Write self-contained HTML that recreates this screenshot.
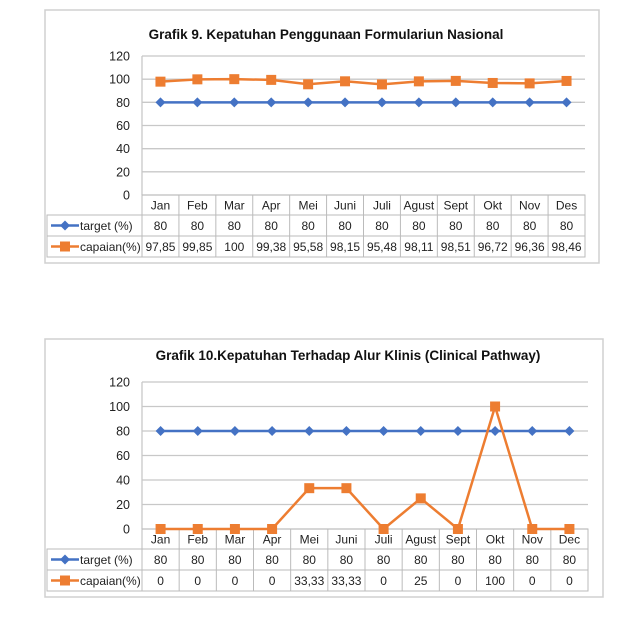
<!DOCTYPE html>
<html><head><meta charset="utf-8"><style>
body{margin:0;background:#fff;width:631px;height:614px;overflow:hidden}
svg{font-family:"Liberation Sans",sans-serif}
</style></head><body>
<svg id="s" width="631" height="614"></svg>
<script>
const months1=["Jan","Feb","Mar","Apr","Mei","Juni","Juli","Agust","Sept","Okt","Nov","Des"];
const target1=[80,80,80,80,80,80,80,80,80,80,80,80];
const capaian1=[97.85,99.85,100,99.38,95.58,98.15,95.48,98.11,98.51,96.72,96.36,98.46];
const months2=["Jan","Feb","Mar","Apr","Mei","Juni","Juli","Agust","Sept","Okt","Nov","Dec"];
const target2=[80,80,80,80,80,80,80,80,80,80,80,80];
const capaian2=[0,0,0,0,33.33,33.33,0,25,0,100,0,0];
const yTicks=[0,20,40,60,80,100,120];
const NS="http://www.w3.org/2000/svg";
const svg=document.getElementById('s');
function mk(tag,attrs,parent,name){const e=document.createElementNS(NS,tag);for(const k in attrs)e.setAttribute(k,attrs[k]);


(parent||svg).appendChild(e);return e;}
function fmt(v){return String(v).replace('.',',');}
function chart(cfg){
 const g=mk('g',{},svg,cfg.name);
 mk('rect',{x:cfg.bx,y:cfg.by,width:cfg.bw,height:cfg.bh,fill:'#fff',stroke:'#d0d0d0','stroke-width':1.5},g,'chart-border');
 const t=mk('text',{x:cfg.tx,y:cfg.ty,'text-anchor':'middle','font-size':13.5,'font-weight':'bold',fill:'#111'},g,'chart-title');t.textContent=cfg.title;
 const L=142,R=cfg.R,T=cfg.T,B=cfg.B,n=cfg.months.length,cw=(R-L)/n;
 const y=v=>B-(v/120)*(B-T), x=i=>L+cw*(i+0.5);
 yTicks.forEach(v=>{
  mk('line',{x1:L,x2:R,y1:y(v),y2:y(v),stroke:'#c8c8c8','stroke-width':1.3},g,'gridline');
  const tt=mk('text',{x:L-12,y:y(v)+4.5,'text-anchor':'end','font-size':12.5,fill:'#222'},g,'y-tick-label');tt.textContent=v;
 });
 mk('line',{x1:L,x2:L,y1:T,y2:B,stroke:'#c8c8c8','stroke-width':1.3},g,'y-axis');
 const r=cfg.rows;
 const tb=mk('g',{},g,'data-table');
 mk('rect',{x:L,y:r[0],width:R-L,height:r[1]-r[0],fill:'none',stroke:'#bbb'},tb,'table-header-row');
 mk('rect',{x:47,y:r[1],width:R-47,height:r[3]-r[1],fill:'none',stroke:'#bbb'},tb,'table-body');
 mk('line',{x1:47,x2:R,y1:r[2],y2:r[2],stroke:'#bbb'},tb,'table-row-divider');
 for(let i=0;i<=n;i++)mk('line',{x1:L+cw*i,x2:L+cw*i,y1:r[0],y2:r[3],stroke:'#bbb'},tb,'table-col-divider');
 const mid=(a,b)=>(a+b)/2+4.5;
 cfg.months.forEach((m,i)=>{const e=mk('text',{x:x(i),y:mid(r[0],r[1]),'text-anchor':'middle','font-size':12,fill:'#222'},tb,'month-label');e.textContent=m;});
 cfg.target.forEach((v,i)=>{const e=mk('text',{x:x(i),y:mid(r[1],r[2]),'text-anchor':'middle','font-size':12,fill:'#222'},tb,'target-value');e.textContent=fmt(v);});
 cfg.cap.forEach((v,i)=>{const e=mk('text',{x:x(i),y:mid(r[2],r[3]),'text-anchor':'middle','font-size':12,fill:'#222'},tb,'capaian-value');e.textContent=fmt(v);});
 const ly1=(r[1]+r[2])/2, ly2=(r[2]+r[3])/2;
 mk('line',{x1:51,x2:79,y1:ly1,y2:ly1,stroke:'#4472C4','stroke-width':2.5},tb,'legend-target-line');
 mk('path',{d:`M65 ${ly1-5}L70 ${ly1}L65 ${ly1+5}L60 ${ly1}Z`,fill:'#4472C4'},tb,'legend-target-marker');
 let e=mk('text',{x:80,y:ly1+4.5,'font-size':12,fill:'#222'},tb,'legend-target-label');e.textContent='target (%)';
 mk('line',{x1:51,x2:79,y1:ly2,y2:ly2,stroke:'#ED7D31','stroke-width':2.5},tb,'legend-capaian-line');
 mk('rect',{x:60,y:ly2-5,width:10,height:10,fill:'#ED7D31'},tb,'legend-capaian-marker');
 e=mk('text',{x:80,y:ly2+4.5,'font-size':12,fill:'#222'},tb,'legend-capaian-label');e.textContent='capaian(%)';
 const sg=mk('g',{},g,'series-target');
 mk('polyline',{points:cfg.target.map((v,i)=>x(i)+','+y(v)).join(' '),fill:'none',stroke:'#4472C4','stroke-width':2.5},sg,'target-line');
 cfg.target.forEach((v,i)=>mk('path',{d:`M${x(i)} ${y(v)-5}L${x(i)+5} ${y(v)}L${x(i)} ${y(v)+5}L${x(i)-5} ${y(v)}Z`,fill:'#4472C4'},sg,'target-point'));
 const cg=mk('g',{},g,'series-capaian');
 mk('polyline',{points:cfg.cap.map((v,i)=>x(i)+','+y(v)).join(' '),fill:'none',stroke:'#ED7D31','stroke-width':2.5},cg,'capaian-line');
 cfg.cap.forEach((v,i)=>mk('rect',{x:x(i)-5,y:y(v)-5,width:10,height:10,fill:'#ED7D31'},cg,'capaian-point'));
}
chart({name:'chart-formularium',bx:45,by:10,bw:554,bh:253,tx:326,ty:39,title:'Grafik 9. Kepatuhan Penggunaan Formulariun Nasional',
 R:585,T:56,B:195,rows:[195,215,236,257],months:months1,target:target1,cap:capaian1});
chart({name:'chart-clinical-pathway',bx:45,by:339,bw:558,bh:258,tx:348,ty:360,title:'Grafik 10.Kepatuhan Terhadap Alur Klinis (Clinical Pathway)',
 R:588,T:382,B:529,rows:[529,549,570,591],months:months2,target:target2,cap:capaian2});
</script>
</body></html>
